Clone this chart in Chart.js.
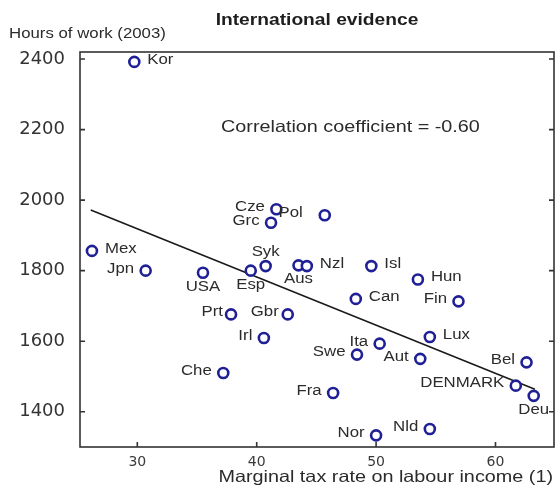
<!DOCTYPE html>
<html>
<head>
<meta charset="utf-8">
<title>International evidence</title>
<script src="https://cdn.jsdelivr.net/npm/chart.js@4.4.1/dist/chart.umd.min.js"></script>
<style>
  html, body { margin: 0; padding: 0; background: #ffffff; }
  #chart { display: block; }
</style>
</head>
<body>
<canvas id="chart" width="557" height="490"></canvas>
<script>
// OECD countries, marginal tax rate on labour income (%) vs. hours worked in 2003
const countries = ['Kor', 'Mex', 'Jpn', 'USA', 'Esp', 'Syk', 'Aus', 'Nzl', 'Cze', 'Grc',
  'Pol', 'Isl', 'Hun', 'Fin', 'Can', 'Prt', 'Gbr', 'Irl', 'Lux', 'Ita',
  'Swe', 'Aut', 'Che', 'Bel', 'DENMARK', 'Deu', 'Fra', 'Nor', 'Nld'];
const taxRate = [29.75, 26.2, 30.7, 35.5, 39.5, 40.75, 43.5, 44.2, 41.65, 41.2,
  45.7, 49.6, 53.5, 56.9, 48.3, 37.85, 42.6, 40.6, 54.5, 50.3,
  48.4, 53.7, 37.2, 62.6, 61.7, 63.2, 46.4, 50.0, 54.5];
const hoursWorked = [2392, 1856, 1800, 1794, 1800, 1813, 1815, 1813, 1974, 1936,
  1957, 1813, 1775, 1713, 1720, 1676, 1676, 1609, 1612, 1593,
  1562, 1550, 1510, 1540, 1474, 1445, 1453, 1333, 1351];

// Fitted regression line (end points)
const trendX = [26.1, 63.3];
const trendY = [1972, 1464];

const xTickValues = [30, 40, 50, 60];
const yTickValues = [1400, 1600, 1800, 2000, 2200, 2400];
const correlation = -0.60;

// Where each country name sits relative to its marker: r, l, a (above), b (below)
const labelSide = ['r', 'r', 'l', 'b', 'b', 'a', 'b', 'r', 'l', 'l',
  'l', 'r', 'r', 'l', 'r', 'l', 'l', 'l', 'r', 'l',
  'l', 'l', 'l', 'l', 'l', 'b', 'l', 'l', 'l'];
const labelGap = { Pol: 22, Prt: 8, Gbr: 9 };

const TEXT = '#2b2b2b';
const MARK = 'rgb(32,32,150)';
const STRETCH = 1.2;

function wideText(ctx, text, x, y, align, font, color) {
  ctx.save();
  ctx.font = font;
  ctx.fillStyle = color || TEXT;
  ctx.textBaseline = 'middle';
  ctx.textAlign = align;
  ctx.translate(x, y);
  ctx.scale(STRETCH, 1);
  ctx.fillText(text, 0, 0);
  ctx.restore();
}

const decorations = {
  id: 'decorations',
  beforeDraw(chart) {
    const ctx = chart.ctx;
    ctx.save();
    ctx.fillStyle = '#ffffff';
    ctx.fillRect(0, 0, chart.width, chart.height);
    ctx.restore();
  },
  afterDatasetsDraw(chart) {
    const ctx = chart.ctx;
    const xs = chart.scales.x, ys = chart.scales.y;
    const a = chart.chartArea;

    // frame and inward tick marks
    ctx.save();
    ctx.strokeStyle = '#333333';
    ctx.lineWidth = 1.6;
    ctx.strokeRect(a.left, a.top, a.right - a.left, a.bottom - a.top);
    ctx.beginPath();
    ys.ticks.forEach(t => {
      const py = ys.getPixelForValue(t.value);
      ctx.moveTo(a.left, py); ctx.lineTo(a.left + 5, py);
      ctx.moveTo(a.right, py); ctx.lineTo(a.right - 5, py);
    });
    xs.ticks.forEach(t => {
      const px = xs.getPixelForValue(t.value);
      ctx.moveTo(px, a.bottom); ctx.lineTo(px, a.bottom - 5);
    });
    ctx.stroke();
    ctx.restore();

    // country names
    const f = '14px "Liberation Sans", Arial, sans-serif';
    countries.forEach((name, i) => {
      const px = xs.getPixelForValue(taxRate[i]);
      const py = ys.getPixelForValue(hoursWorked[i]);
      const side = labelSide[i];
      if (side === 'r') {
        wideText(ctx, name, px + (labelGap[name] || 13), py - 2, 'left', f);
      } else if (side === 'l') {
        wideText(ctx, name, px - (labelGap[name] || 11.5), py - 2, 'right', f);
      } else if (side === 'a') {
        wideText(ctx, name, px, py - 14, 'center', f);
      } else {
        wideText(ctx, name, px, py + 14, 'center', f);
      }
    });

    // headings and notes
    wideText(ctx, 'International evidence', (a.left + a.right) / 2, 21,
      'center', 'bold 16px "Liberation Sans", Arial, sans-serif', '#1e1e1e');
    wideText(ctx, 'Hours of work (2003)', 9, 34, 'left',
      '14px "Liberation Sans", Arial, sans-serif');
    wideText(ctx, 'Correlation coefficient = ' + correlation.toFixed(2),
      xs.getPixelForValue(47.85), ys.getPixelForValue(2207), 'center',
      '16.5px "Liberation Sans", Arial, sans-serif');
    wideText(ctx, 'Marginal tax rate on labour income (1)', a.right - 1, 477, 'right',
      '16.5px "Liberation Sans", Arial, sans-serif');
  }
};

const points = countries.map((c, i) => ({ x: taxRate[i], y: hoursWorked[i] }));
const trend = trendX.map((x, i) => ({ x: x, y: trendY[i] }));

new Chart(document.getElementById('chart'), {
  data: {
    datasets: [
      {
        type: 'line',
        data: trend,
        borderColor: '#1a1a1a',
        borderWidth: 1.6,
        pointRadius: 0,
        fill: false,
        order: 2
      },
      {
        type: 'scatter',
        data: points,
        pointStyle: 'circle',
        pointRadius: 5,
        pointBorderWidth: 2.6,
        pointBorderColor: MARK,
        pointBackgroundColor: '#ffffff',
        order: 1
      }
    ]
  },
  options: {
    responsive: false,
    animation: false,
    layout: { autoPadding: false, padding: { top: 52, right: 3, left: 0, bottom: 0 } },
    plugins: {
      legend: { display: false },
      tooltip: { enabled: false },
      title: { display: false }
    },
    scales: {
      x: {
        type: 'linear',
        min: 25.2,
        max: 64.9,
        afterFit(scale) {
          scale.height = 43;
          scale.paddingLeft = 0;
          scale.paddingRight = 0;
        },
        afterBuildTicks(scale) { scale.ticks = xTickValues.map(v => ({ value: v })); },
        grid: { display: false, drawTicks: false },
        border: { display: false },
        ticks: {
          padding: 7,
          color: '#3a3a3a',
          callback: v => String(v),
          font: { family: '"DejaVu Sans", sans-serif', size: 14 }
        }
      },
      y: {
        type: 'linear',
        min: 1300,
        max: 2420,
        afterFit(scale) {
          scale.width = 80;
          scale.paddingTop = 0;
          scale.paddingBottom = 0;
        },
        afterBuildTicks(scale) { scale.ticks = yTickValues.map(v => ({ value: v })); },
        grid: { display: false, drawTicks: false },
        border: { display: false },
        ticks: {
          padding: 15,
          color: '#333333',
          callback: v => String(v),
          font: { family: '"DejaVu Sans", sans-serif', size: 18 }
        }
      }
    }
  },
  plugins: [decorations]
});
</script>
</body>
</html>
